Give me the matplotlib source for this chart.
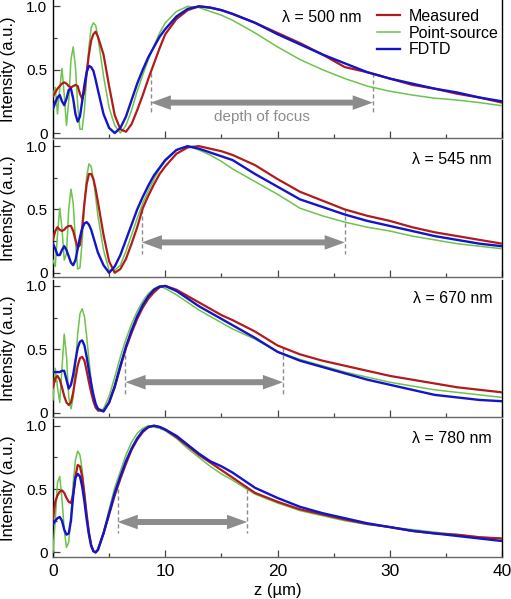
import matplotlib
matplotlib.use('Agg')
import matplotlib.pyplot as plt
from matplotlib.lines import Line2D
from matplotlib.patches import Polygon
from matplotlib.ticker import FixedLocator, FixedFormatter

plt.rcParams['font.family'] = ['Liberation Sans', 'DejaVu Sans']

# sample positions along z (um)
z = [0, 0.2, 0.4, 0.6, 0.8, 1.0, 1.2, 1.4, 1.6, 1.8, 2.0, 2.2, 2.4, 2.6, 2.8,
     3.0, 3.2, 3.4, 3.6, 3.8, 4.0,
     4.5, 5.0, 5.5, 6.0, 6.5, 7.0, 7.5, 8.0, 8.5, 9.0, 9.5, 10,
     11, 12, 13, 14, 15, 16,
     18, 20, 22, 24, 26, 28, 30, 32, 34, 36, 38, 40]

# lambda = 500 nm
measured_500 = [0.29, 0.32, 0.35, 0.37, 0.39, 0.40, 0.39, 0.37, 0.36, 0.37, 0.38, 0.37, 0.31, 0.27, 0.33,
                0.48, 0.62, 0.73, 0.78, 0.80, 0.76,
                0.62, 0.37, 0.14, 0.03, 0.01, 0.07, 0.18, 0.30, 0.43, 0.55, 0.67, 0.78,
                0.90, 0.97, 1.00, 0.99, 0.97, 0.94,
                0.87, 0.79, 0.71, 0.62, 0.52, 0.48, 0.43, 0.38, 0.35, 0.31, 0.28, 0.24]
point_500 = [0.30, 0.36, 0.15, 0.35, 0.51, 0.30, 0.06, 0.25, 0.58, 0.68, 0.52, 0.22, 0.03, 0.03, 0.18,
             0.45, 0.68, 0.83, 0.87, 0.85, 0.76,
             0.45, 0.20, 0.06, 0.00, 0.06, 0.18, 0.33, 0.46, 0.58, 0.69, 0.79, 0.87,
             0.96, 1.00, 0.99, 0.96, 0.93, 0.89,
             0.79, 0.68, 0.58, 0.50, 0.43, 0.37, 0.33, 0.30, 0.275, 0.26, 0.24, 0.215]
fdtd_500 = [0.19, 0.24, 0.28, 0.30, 0.25, 0.22, 0.27, 0.34, 0.35, 0.27, 0.15, 0.09, 0.13, 0.25, 0.38,
            0.48, 0.53, 0.52, 0.49, 0.42, 0.34,
            0.15, 0.04, 0.00, 0.04, 0.13, 0.26, 0.39, 0.50, 0.60, 0.68, 0.76, 0.82,
            0.92, 0.98, 1.00, 0.99, 0.97, 0.94,
            0.87, 0.78, 0.70, 0.62, 0.55, 0.48, 0.43, 0.39, 0.35, 0.32, 0.28, 0.25]

# lambda = 545 nm
measured_545 = [0.26, 0.33, 0.36, 0.34, 0.33, 0.34, 0.36, 0.37, 0.37, 0.33, 0.26, 0.20, 0.22, 0.36, 0.55,
                0.70, 0.78, 0.78, 0.74, 0.66, 0.56,
                0.30, 0.09, 0.00, 0.03, 0.11, 0.23, 0.36, 0.51, 0.61, 0.70, 0.78, 0.84,
                0.94, 0.99, 1.00, 0.98, 0.96, 0.93,
                0.85, 0.74, 0.64, 0.57, 0.50, 0.45, 0.41, 0.36, 0.32, 0.29, 0.26, 0.23]
point_545 = [0.10, 0.05, 0.30, 0.51, 0.35, 0.10, 0.15, 0.50, 0.66, 0.55, 0.25, 0.03, 0.04, 0.25, 0.55,
             0.76, 0.86, 0.84, 0.74, 0.60, 0.45,
             0.18, 0.02, 0.02, 0.06, 0.17, 0.30, 0.43, 0.55, 0.65, 0.74, 0.82, 0.88,
             0.97, 1.00, 0.97, 0.93, 0.88, 0.82,
             0.72, 0.62, 0.51, 0.45, 0.40, 0.36, 0.33, 0.29, 0.26, 0.23, 0.21, 0.19]
fdtd_545 = [0.23, 0.19, 0.14, 0.14, 0.18, 0.21, 0.18, 0.13, 0.08, 0.06, 0.10, 0.19, 0.28, 0.35, 0.39,
            0.40, 0.38, 0.34, 0.28, 0.22, 0.16,
            0.06, 0.00, 0.05, 0.14, 0.26, 0.38, 0.50, 0.60, 0.69, 0.77, 0.83, 0.89,
            0.97, 1.00, 0.98, 0.95, 0.92, 0.89,
            0.78, 0.68, 0.58, 0.52, 0.46, 0.41, 0.37, 0.33, 0.29, 0.26, 0.23, 0.21]

# lambda = 670 nm
measured_670 = [0.20, 0.27, 0.29, 0.26, 0.20, 0.13, 0.08, 0.06, 0.08, 0.16, 0.27, 0.37, 0.43, 0.44, 0.41,
                0.33, 0.24, 0.16, 0.09, 0.04, 0.02,
                0.01, 0.08, 0.20, 0.36, 0.51, 0.63, 0.74, 0.83, 0.90, 0.95, 0.99, 1.00,
                0.97, 0.92, 0.87, 0.82, 0.77, 0.73,
                0.64, 0.53, 0.46, 0.41, 0.37, 0.33, 0.29, 0.26, 0.23, 0.20, 0.18, 0.16]
point_670 = [0.10, 0.35, 0.20, 0.08, 0.35, 0.62, 0.45, 0.12, 0.03, 0.12, 0.38, 0.62, 0.78, 0.82, 0.76,
             0.60, 0.42, 0.25, 0.12, 0.04, 0.01,
             0.03, 0.13, 0.28, 0.44, 0.58, 0.70, 0.80, 0.88, 0.94, 0.98, 1.00, 0.98,
             0.93, 0.87, 0.81, 0.76, 0.71, 0.66,
             0.58, 0.48, 0.42, 0.37, 0.32, 0.28, 0.24, 0.21, 0.18, 0.16, 0.14, 0.12]
fdtd_670 = [0.32, 0.32, 0.32, 0.32, 0.33, 0.33, 0.26, 0.19, 0.22, 0.30, 0.41, 0.51, 0.56, 0.57, 0.53,
            0.44, 0.33, 0.23, 0.14, 0.07, 0.03,
            0.01, 0.08, 0.21, 0.37, 0.52, 0.65, 0.76, 0.85, 0.92, 0.97, 0.995, 1.00,
            0.96, 0.90, 0.84, 0.79, 0.74, 0.69,
            0.59, 0.48, 0.41, 0.36, 0.31, 0.26, 0.22, 0.18, 0.14, 0.12, 0.10, 0.09]

# lambda = 780 nm
measured_780 = [0.26, 0.40, 0.45, 0.48, 0.49, 0.47, 0.43, 0.40, 0.39, 0.46, 0.60, 0.69, 0.68, 0.60, 0.46,
                0.30, 0.16, 0.06, 0.01, 0.00, 0.02,
                0.15, 0.30, 0.45, 0.58, 0.70, 0.81, 0.89, 0.95, 0.99, 1.00, 0.99, 0.97,
                0.91, 0.84, 0.77, 0.71, 0.65, 0.59,
                0.47, 0.40, 0.34, 0.30, 0.26, 0.225, 0.20, 0.17, 0.15, 0.14, 0.12, 0.11]
point_780 = [0.00, 0.25, 0.55, 0.60, 0.42, 0.18, 0.04, 0.08, 0.30, 0.55, 0.73, 0.80, 0.77, 0.65, 0.47,
             0.30, 0.15, 0.06, 0.01, 0.00, 0.03,
             0.16, 0.34, 0.51, 0.64, 0.77, 0.87, 0.94, 0.98, 1.00, 0.99, 0.98, 0.96,
             0.90, 0.82, 0.75, 0.68, 0.62, 0.57,
             0.46, 0.39, 0.33, 0.29, 0.25, 0.22, 0.20, 0.18, 0.16, 0.14, 0.12, 0.11]
fdtd_780 = [0.22, 0.25, 0.27, 0.28, 0.25, 0.18, 0.14, 0.15, 0.25, 0.45, 0.59, 0.62, 0.60, 0.52, 0.40,
            0.26, 0.14, 0.05, 0.01, 0.00, 0.02,
            0.15, 0.31, 0.47, 0.60, 0.72, 0.82, 0.90, 0.96, 0.99, 1.00, 0.99, 0.97,
            0.92, 0.85, 0.78, 0.72, 0.68, 0.63,
            0.51, 0.43, 0.36, 0.31, 0.27, 0.23, 0.20, 0.17, 0.15, 0.13, 0.11, 0.09]

wavelengths = [500, 545, 670, 780]
measured = [measured_500, measured_545, measured_670, measured_780]
point_source = [point_500, point_545, point_670, point_780]
fdtd = [fdtd_500, fdtd_545, fdtd_670, fdtd_780]

# depth of focus (um)
dof_start = [8.7, 7.9, 6.45, 5.75]
dof_end = [28.5, 26.0, 20.5, 17.3]
dof_top = [0.47, 0.5, 0.51, 0.5]

c_meas = '#B01C1C'
c_point = '#6CC44A'
c_fdtd = '#1414C8'
c_grey = '#8C8C8C'


def double_arrow(ax, x0, x1, y, shaft=0.047, head_w=0.115, head_l=1.8):
    # one polygon so there is no seam between the two halves
    hs, hh = shaft / 2, head_w / 2
    pts = [(x0, y), (x0 + head_l, y + hh), (x0 + head_l, y + hs),
           (x1 - head_l, y + hs), (x1 - head_l, y + hh), (x1, y),
           (x1 - head_l, y - hh), (x1 - head_l, y - hs),
           (x0 + head_l, y - hs), (x0 + head_l, y - hh)]
    ax.add_patch(Polygon(pts, closed=True, color=c_grey, lw=0, zorder=2))


W, H = 511, 599
fig = plt.figure(figsize=(W / 100, H / 100), dpi=100)

left_px, right_px = 53, 502
panel_step, panel_h = 139.8, 137.7

for i, lam in enumerate(wavelengths):
    top_px = panel_step * i
    ax = fig.add_axes([left_px / W, 1 - (top_px + panel_h) / H,
                       (right_px - left_px) / W, panel_h / H])

    ax.plot(z, point_source[i], color=c_point, lw=1.1, zorder=3)
    ax.plot(z, measured[i], color=c_meas, lw=1.6, zorder=4)
    ax.plot(z, fdtd[i], color=c_fdtd, lw=1.7, zorder=5)

    # depth of focus marker: dashed drop lines + double arrow
    for x in (dof_start[i], dof_end[i]):
        ax.plot([x, x], [dof_top[i], 0.15], color=c_grey, lw=1.0,
                ls=(0, (3, 2)), zorder=2)
    double_arrow(ax, dof_start[i], dof_end[i], 0.24)
    mid = 0.5 * (dof_start[i] + dof_end[i])

    if i == 0:
        ax.text(mid, 0.13, 'depth of focus', color=c_grey, fontsize=11,
                ha='center', va='center')
        ax.text(0.688, 0.87, 'λ = %d nm' % lam, fontsize=11.5,
                ha='right', va='center', transform=ax.transAxes)
        handles = [Line2D([], [], color=c_meas, lw=1.6),
                   Line2D([], [], color=c_point, lw=1.1),
                   Line2D([], [], color=c_fdtd, lw=1.7)]
        ax.legend(handles, ['Measured', 'Point-source', 'FDTD'],
                  loc='upper left', bbox_to_anchor=(0.722, 0.935), frameon=False,
                  fontsize=11.5, handlelength=1.45, handletextpad=0.5,
                  labelspacing=0.1, borderpad=0, borderaxespad=0)
    else:
        ax.text(0.978, 0.86, 'λ = %d nm' % lam, fontsize=11.5,
                ha='right', va='center', transform=ax.transAxes)

    ax.set_xlim(0, 40)
    ax.set_ylim(-0.037, 1.05)

    ax.spines['top'].set_visible(False)
    ax.spines['bottom'].set_color('#666666')
    ax.spines['left'].set_color('black')
    ax.spines['right'].set_color('black')
    for s in ('bottom', 'left', 'right'):
        ax.spines[s].set_linewidth(1.0)

    ax.xaxis.set_major_locator(FixedLocator([0, 10, 20, 30, 40]))
    ax.xaxis.set_minor_locator(FixedLocator([5, 15, 25, 35]))
    ax.yaxis.set_major_locator(FixedLocator([0, 0.5, 1.0]))
    ax.yaxis.set_major_formatter(FixedFormatter(['0', '0.5', '1.0']))
    ax.yaxis.set_minor_locator(FixedLocator([0.25, 0.75]))
    ax.tick_params(axis='both', which='both', direction='in', top=False, right=False,
                   color='#444444')
    ax.tick_params(axis='both', which='major', length=5, width=0.9)
    ax.tick_params(axis='both', which='minor', length=3, width=0.9)
    ax.tick_params(axis='y', labelsize=11, pad=4)
    ax.tick_params(axis='x', labelsize=12.5, pad=5, labelbottom=(i == 3))

    ax.set_ylabel('Intensity (a.u.)', fontsize=12)
    ax.yaxis.set_label_coords(-0.082, 0.5)
    if i == 3:
        ax.set_xlabel('z (µm)', fontsize=12, labelpad=3)

fig.savefig('out.png', dpi=100)
